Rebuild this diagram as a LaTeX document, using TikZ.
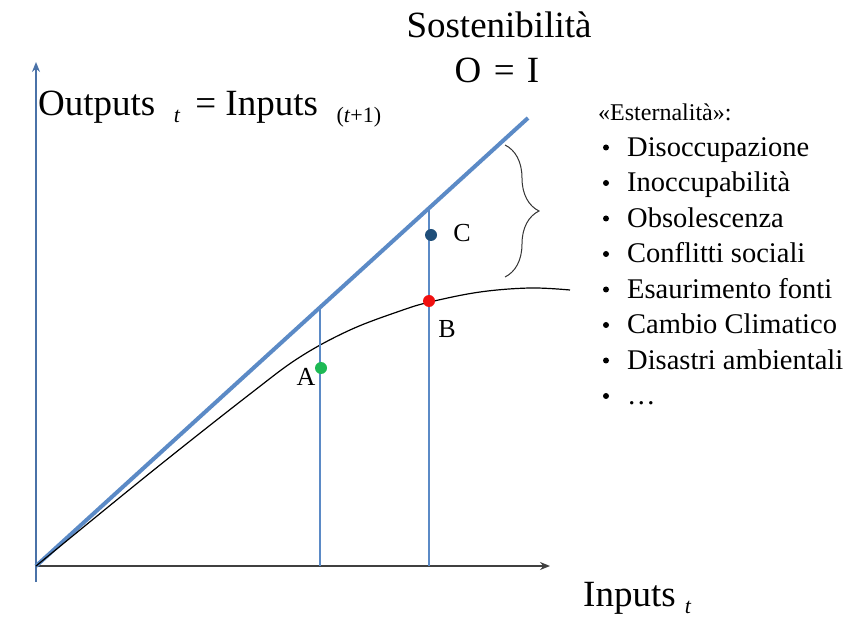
\documentclass[tikz,border=0pt]{standalone}
\usepackage{fontspec}
\setmainfont{Liberation Serif}
\usetikzlibrary{arrows.meta,positioning,decorations.pathreplacing,calc}

\definecolor{axisblue}{HTML}{4A72A8}
\definecolor{lineblue}{HTML}{5B8AC6}
\definecolor{dotgreen}{HTML}{1DB954}
\definecolor{dotred}{HTML}{F01010}
\definecolor{dotblue}{HTML}{1F4E79}

\newcommand{\lowidx}[1]{\raisebox{-7pt}{\fontsize{22}{22}\selectfont #1}}

\tikzset{
    bigtxt/.style={font=\fontsize{37}{39}\selectfont, inner sep=0pt},
    listtxt/.style={font=\fontsize{28.5}{31}\selectfont, anchor=base west, inner sep=0pt},
    ptlabel/.style={font=\fontsize{26}{28}\selectfont, inner sep=0pt},
    dot/.style={circle, fill=#1, minimum size=12pt, inner sep=0pt}
}

\begin{document}
\begin{tikzpicture}[x=1pt, y=-1pt]
    \useasboundingbox (0,0) rectangle (849,617);

    % Axes
    \coordinate (O) at (36,566);
    \draw[axisblue, line width=1.6pt, -{Stealth[length=10pt,width=8pt]}] (36,582) -- (36,62) coordinate (ytip);
    \draw[black!75, line width=1.6pt, -{Stealth[length=10pt,width=8pt]}] (O) -- (550,566) coordinate (xtip);

    % Sustainability line O = I
    \draw[lineblue, line width=4pt] (O) -- (528,118) coordinate (diagend);

    % Production curve
    \draw[black, line width=1.2pt] plot[smooth, tension=0.6] coordinates
        {(O) (150,473) (250,394) (300,357) (350,330) (400,311) (430,302) (480,292) (530,288) (570,290)};

    % Vertical guides
    \draw[lineblue, line width=1.3pt] (320,566) -- (320,309);
    \draw[lineblue, line width=1.3pt] (429,566) -- (429,210);

    % Points
    \node[dot=dotgreen] (ptA) at (321,368) {};
    \node[dot=dotred] (ptB) at (429,301) {};
    \node[dot=dotblue] (ptC) at (431,235) {};
    \node[ptlabel] (labA) at (306,377) {A};
    \node[ptlabel] (labB) at (447,329) {B};
    \node[ptlabel] (labC) at (462,233) {C};

    % Brace for externalities
    \draw[black!80, line width=1pt, decorate, decoration={brace, amplitude=34pt}] (505,145) -- (505,277);

    % Titles
    \node[bigtxt, anchor=base] (title) at (499,38) {Sostenibilità};
    \node[bigtxt, anchor=base] (eq) at (497,83) {O\,\,=\,\,I};
    \node[bigtxt, anchor=base west] (ylab) at (38,116) {Outputs\ \ \lowidx{\itshape t}\, = Inputs\ \ \lowidx{(\textit{t}+1)}};
    \node[bigtxt, anchor=base west] (xlab) at (583,606) {Inputs\ \lowidx{\itshape t}};

    % Externalities list
    \node[font=\fontsize{24}{26}\selectfont, anchor=base west, inner sep=0pt] (ext) at (598,121) {«Esternalità»:};
    \foreach \txt [count=\i] in {Disoccupazione, Inoccupabilità, Obsolescenza, Conflitti sociali,
        Esaurimento fonti, Cambio Climatico, Disastri ambientali, \dots} {
        \node[listtxt] (item\i) at (627,121+35.5*\i) {\txt};
        \fill (606,112+35.5*\i) circle (3pt);
    }
\end{tikzpicture}
\end{document}
